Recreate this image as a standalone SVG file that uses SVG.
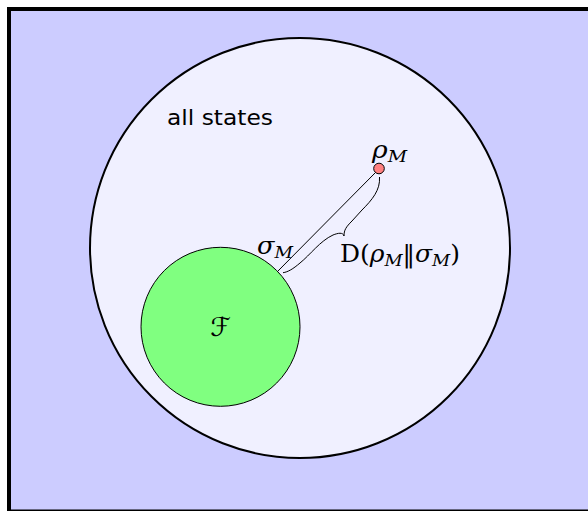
<svg xmlns="http://www.w3.org/2000/svg" width="588" height="511" viewBox="0 0 588 511">
<style>
.math{font-family:"DejaVu Serif","Liberation Serif",serif;font-style:italic;fill:#000}
.rm{font-family:"DejaVu Serif","Liberation Serif",serif;fill:#000}
.sans{font-family:"DejaVu Sans","Liberation Sans",sans-serif;fill:#000}
.ln{fill:none;stroke:#000;stroke-width:1}
</style>
<rect x="0" y="0" width="588" height="511" fill="#ffffff"/>
<rect x="9" y="9" width="600" height="502.5" fill="#ccccff" stroke="#000" stroke-width="4"/>
<g id="allstates">
<circle cx="300" cy="248" r="210" fill="#f0f0ff" stroke="#000" stroke-width="2"/>
<text class="sans" x="167" y="125" font-size="22" textLength="106" lengthAdjust="spacingAndGlyphs">all states</text>
</g>
<g id="F">
<circle cx="220.5" cy="326.8" r="79.5" fill="#80ff80" stroke="#000" stroke-width="1"/>
<text class="math" x="220.5" y="336" font-size="26" text-anchor="middle" style="font-family:'DejaVu Sans',sans-serif">ℱ</text>
</g>
<g id="rho">
<circle cx="379" cy="168.5" r="5.3" fill="#ff8080" stroke="#000" stroke-width="1"/>
<text class="math" x="372" y="158" font-size="24" textLength="35" lengthAdjust="spacingAndGlyphs">ρ<tspan font-size="17" dy="4">M</tspan></text>
</g>
<g id="sigma">
<text class="math" x="257" y="254" font-size="24" textLength="36" lengthAdjust="spacingAndGlyphs">σ<tspan font-size="17" dy="4">M</tspan></text>
</g>
<g id="connectors">
<line class="ln" x1="375.5" y1="172.5" x2="278" y2="271"/>
<path class="ln" d="M379.5,177 C380.5,190 372,200 362,210 L352,221 C346,227 344,230 344,236 C343,232 338,233 333,235 C320,241 310,255 300,263 C293,269 288,272 283,272.7"/>
</g>
<g id="Dlabel">
<text class="rm" x="340" y="262" font-size="24" textLength="120" lengthAdjust="spacingAndGlyphs">D(<tspan class="math">ρ</tspan><tspan class="math" font-size="17" dy="4">M</tspan><tspan dy="-4">‖</tspan><tspan class="math">σ</tspan><tspan class="math" font-size="17" dy="4">M</tspan><tspan dy="-4">)</tspan></text>
</g>
</svg>
